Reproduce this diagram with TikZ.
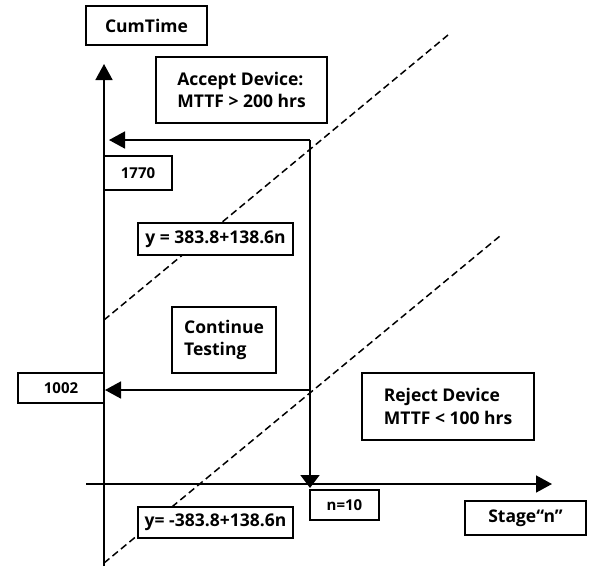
\documentclass[tikz,border=0pt]{standalone}
\usepackage{fontspec}
\setmainfont{Open Sans}
\usetikzlibrary{arrows.meta}
\begin{document}
\begin{tikzpicture}[x=1pt,y=-1pt,
  lbl/.style={draw=black,line width=1.3pt,fill=white,inner sep=0pt,align=left,font=\fontsize{17.5}{22.5}\selectfont\bfseries},
  small/.style={lbl,font=\fontsize{15}{17}\selectfont\bfseries},
  axis/.style={line width=1.6pt},
  bound/.style={line width=1.5pt,dash pattern=on 7pt off 4pt},
  tip/.style={-{Triangle[length=16pt,width=17pt]}}
]
\useasboundingbox (0,0) rectangle (592,566);
% dashed boundary lines
\coordinate (u0) at (104,320);
\coordinate (u1) at (448,35);
\coordinate (l0) at (104,563);
\coordinate (l1) at (500,236);
\draw[bound] (u0) -- (u1);
\draw[bound] (l0) -- (l1);
% axes
\coordinate (yb) at (104,566);
\coordinate (yt) at (104,64);
\coordinate (xl) at (86,484);
\coordinate (xr) at (552,484);
\draw[axis,tip] (yb) -- (yt);
\draw[axis,tip] (xl) -- (xr);
% test path
\coordinate (c1) at (310,140);
\coordinate (a1) at (109,140);
\coordinate (c2) at (310,390);
\coordinate (a2) at (105,390);
\coordinate (a3) at (310,488);
\draw[axis,tip] (c1) -- (a1);
\draw[axis,-{Triangle[length=13pt,width=19pt]}] (c1) -- (a3);
\draw[axis,tip] (c2) -- (a2);
% labels
\node[lbl,minimum width=121pt,minimum height=39pt] (cum) at (146.5,25.5) {CumTime};
\node[lbl,minimum width=171pt,minimum height=66pt] (accept) at (241.5,90) {Accept Device:\\MTTF > 200 hrs};
\node[small,minimum width=68pt,minimum height=34pt] (n1770) at (138,173) {1770};
\node[lbl,minimum width=155pt,minimum height=32pt] (equ) at (215.5,239) {y = 383.8+138.6n};
\node[lbl,minimum width=104pt,minimum height=66pt] (cont) at (224,340) {Continue\\Testing};
\node[small,minimum width=86pt,minimum height=30pt] (n1002) at (61,388) {1002};
\node[lbl,minimum width=172pt,minimum height=67pt] (reject) at (448,406.5) {Reject Device\\MTTF < 100 hrs};
\node[small,minimum width=69pt,minimum height=30pt] (n10) at (344.5,505) {n=10};
\node[lbl,minimum width=121pt,minimum height=34pt] (stage) at (525.5,518) {Stage“n”};
\node[lbl,minimum width=155pt,minimum height=31pt] (eql) at (215.5,522.5) {y= -383.8+138.6n};
\end{tikzpicture}
\end{document}
